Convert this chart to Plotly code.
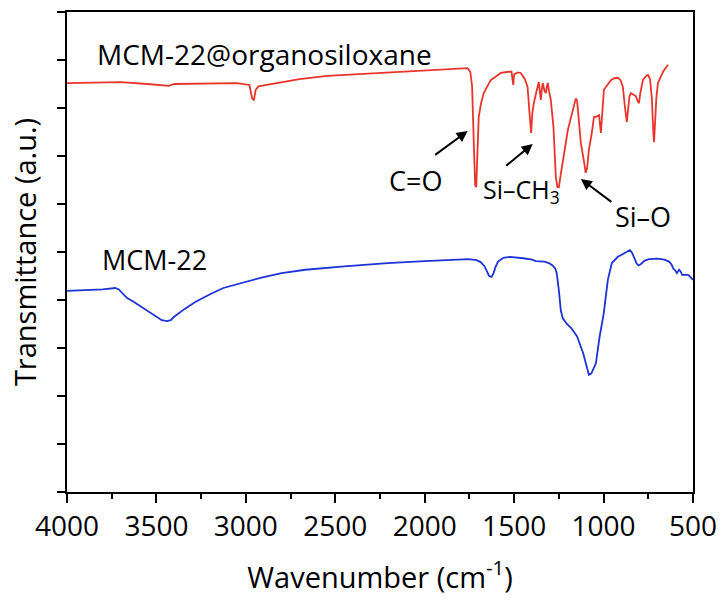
import plotly.graph_objects as go

# ---- data ----
wn_org = [4000, 3850, 3700, 3550, 3430, 3400, 3200, 3050, 2980, 2965, 2955, 2945, 2930, 2850,
          2700, 2544, 2350, 2174, 2000, 1800, 1760, 1745, 1735, 1725, 1718, 1712, 1705, 1698,
          1685, 1670, 1650, 1631, 1600, 1575, 1540, 1515, 1505, 1500, 1480, 1463, 1440, 1425,
          1412, 1405, 1398, 1390, 1375, 1362, 1355, 1351, 1345, 1340, 1330, 1323, 1317, 1312,
          1305, 1295, 1280, 1267, 1258, 1250, 1240, 1228, 1210, 1200, 1185, 1172, 1160, 1155,
          1148, 1140, 1127, 1110, 1100, 1092, 1082, 1065, 1054, 1040, 1025, 1015, 1008, 998,
          985, 959, 940, 920, 905, 892, 880, 870, 862, 855, 847, 835, 820, 810, 802, 795, 780,
          765, 752, 740, 730, 722, 718, 712, 705, 696, 685, 668, 650, 640]
tr_org = [8.52, 8.53, 8.54, 8.50, 8.46, 8.50, 8.52, 8.52, 8.48, 8.20, 8.17, 8.38, 8.45, 8.50,
          8.60, 8.67, 8.71, 8.75, 8.79, 8.83, 8.83, 8.75, 8.45, 7.20, 6.40, 6.35, 7.00, 7.81,
          8.10, 8.31, 8.45, 8.58, 8.66, 8.73, 8.75, 8.76, 8.48, 8.70, 8.74, 8.73, 8.60, 8.44,
          7.80, 7.48, 7.90, 8.10, 8.35, 8.54, 8.30, 8.17, 8.40, 8.52, 8.35, 8.31, 8.45, 8.52,
          8.35, 8.17, 7.60, 6.56, 6.35, 6.35, 6.60, 6.92, 7.30, 7.54, 7.75, 7.96, 8.15, 8.20,
          8.15, 7.80, 7.27, 6.90, 6.65, 6.75, 7.13, 7.50, 7.81, 7.82, 7.85, 7.48, 7.80, 8.38,
          8.45, 8.58, 8.62, 8.63, 8.58, 8.44, 8.00, 7.71, 8.00, 8.25, 8.31, 8.28, 8.25, 8.15,
          8.10, 8.30, 8.58, 8.66, 8.69, 8.60, 8.20, 7.50, 7.29, 7.70, 8.20, 8.52, 8.62, 8.75,
          8.85, 8.90]

wn_mcm = [4000, 3900, 3800, 3731, 3710, 3685, 3664, 3630, 3602, 3560, 3530, 3490, 3470, 3440,
          3420, 3401, 3370, 3340, 3283, 3240, 3200, 3126, 3050, 2980, 2919, 2800, 2667, 2450,
          2208, 2000, 1850, 1754, 1710, 1687, 1665, 1650, 1640, 1626, 1615, 1605, 1590, 1560,
          1525, 1450, 1400, 1379, 1330, 1306, 1285, 1270, 1262, 1250, 1239, 1228, 1205, 1182,
          1148, 1114, 1091, 1082, 1068, 1055, 1043, 1022, 999, 976, 954, 920, 880, 853, 840, 830,
          815, 805, 791, 770, 746, 700, 660, 634, 620, 610, 600, 590, 578, 570, 560, 545, 525,
          500]
tr_mcm = [4.19, 4.20, 4.22, 4.25, 4.22, 4.12, 4.04, 3.97, 3.90, 3.80, 3.73, 3.63, 3.58, 3.56,
          3.58, 3.65, 3.74, 3.82, 3.96, 4.05, 4.12, 4.25, 4.33, 4.40, 4.46, 4.56, 4.63, 4.70,
          4.77, 4.81, 4.84, 4.85, 4.83, 4.79, 4.70, 4.58, 4.50, 4.48, 4.56, 4.68, 4.80, 4.88,
          4.90, 4.87, 4.84, 4.81, 4.80, 4.77, 4.72, 4.65, 4.56, 4.20, 3.78, 3.62, 3.50, 3.42,
          3.24, 2.89, 2.54, 2.44, 2.47, 2.58, 2.68, 3.24, 3.72, 4.42, 4.77, 4.90, 4.98, 5.04,
          4.98, 4.88, 4.76, 4.72, 4.75, 4.82, 4.85, 4.86, 4.84, 4.80, 4.74, 4.65, 4.62, 4.56,
          4.63, 4.60, 4.52, 4.53, 4.52, 4.42]

x_ticks = [4000, 3500, 3000, 2500, 2000, 1500, 1000, 500]
x_tick_labels = ["4000", "3500", "3000", "2500", "2000", "1500", "1000", "500"]

FONT = "Open Sans"

fig = go.Figure()
fig.add_trace(go.Scatter(x=wn_org, y=tr_org, mode="lines",
                         line=dict(color="#e8352c", width=1.8), showlegend=False))
fig.add_trace(go.Scatter(x=wn_mcm, y=tr_mcm, mode="lines",
                         line=dict(color="#1d33d6", width=1.8), showlegend=False))

# series labels
fig.add_annotation(x=3843, y=9.12, text="MCM-22@organosiloxane", showarrow=False,
                   xanchor="left", yanchor="middle", font=dict(size=28, color="black", family=FONT))
fig.add_annotation(x=3815, y=4.85, text="MCM-22", showarrow=False,
                   xanchor="left", yanchor="middle", font=dict(size=27, color="black", family=FONT))

# band labels
fig.add_annotation(x=2051, y=6.5, text="C=O", showarrow=False,
                   font=dict(size=27, color="black", family=FONT))
fig.add_annotation(x=1458, y=6.29, text="Si\u2013CH<sub>3</sub>", showarrow=False,
                   font=dict(size=25, color="black", family=FONT))
fig.add_annotation(x=780, y=5.73, text="Si\u2013O", showarrow=False,
                   font=dict(size=27, color="black", family=FONT))

# arrows
for (hx, hy, tx, ty) in [(1760, 7.52, 1950, 7.0), (1396, 7.25, 1553, 6.77), (1127, 6.52, 948, 6.02)]:
    fig.add_annotation(x=hx, y=hy, ax=tx, ay=ty, xref="x", yref="y", axref="x", ayref="y",
                       text="", showarrow=True, arrowhead=2, arrowsize=1.1, arrowwidth=2,
                       arrowcolor="black")

fig.update_layout(
    width=724, height=603,
    margin=dict(l=67, r=31, t=12, b=111),
    paper_bgcolor="white", plot_bgcolor="white",
    font=dict(family=FONT, color="black"),
)
fig.update_xaxes(
    range=[4000, 500], autorange=False, automargin=False,
    tickmode="array", tickvals=x_ticks, ticktext=x_tick_labels,
    ticks="outside", ticklen=9, tickwidth=1.5, tickcolor="black",
    minor=dict(dtick=250, tick0=500, ticks="outside", ticklen=5, tickwidth=1.5, tickcolor="black"),
    showline=True, linecolor="black", linewidth=1.5, mirror=True,
    showgrid=False, zeroline=False,
    tickfont=dict(size=28, family=FONT, color="black"),
    title=dict(text="Wavenumber (cm<sup>-1</sup>)", font=dict(size=29, family=FONT, color="black"),
               standoff=24),
)
fig.update_yaxes(
    range=[0, 10], autorange=False, automargin=False, dtick=1, tick0=0,
    showticklabels=False,
    ticks="outside", ticklen=8, tickwidth=1.5, tickcolor="black",
    showline=True, linecolor="black", linewidth=1.5, mirror=True,
    showgrid=False, zeroline=False,
    title=dict(text="Transmittance (a.u.)", font=dict(size=29, family=FONT, color="black"),
               standoff=12),
)

fig.write_html("out.html")
